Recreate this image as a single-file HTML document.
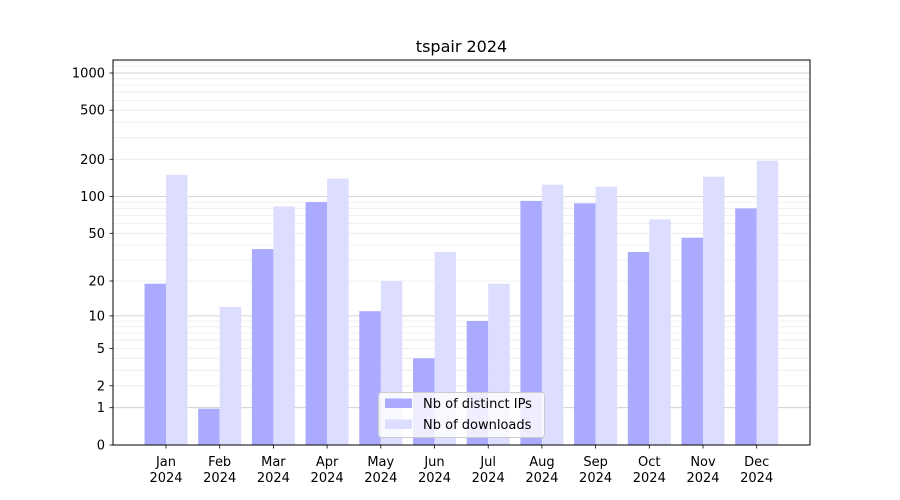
<!DOCTYPE html>
<html><head><meta charset="utf-8"><style>body{margin:0;background:#fff}svg{display:block;font-family:"DejaVu Sans","Liberation Sans",sans-serif}</style></head><body>
<svg width="900" height="500" viewBox="0 0 900 500">
<rect width="900" height="500" fill="#fff"/>
<g stroke="#ebebeb" stroke-width="0.8">
<line x1="113" x2="810" y1="385.8" y2="385.8"/><line x1="113" x2="810" y1="370.3" y2="370.3"/><line x1="113" x2="810" y1="358.3" y2="358.3"/><line x1="113" x2="810" y1="348.5" y2="348.5"/><line x1="113" x2="810" y1="340.2" y2="340.2"/><line x1="113" x2="810" y1="333" y2="333"/><line x1="113" x2="810" y1="326.7" y2="326.7"/><line x1="113" x2="810" y1="321" y2="321"/>
<line x1="113" x2="810" y1="281" y2="281"/><line x1="113" x2="810" y1="260.1" y2="260.1"/><line x1="113" x2="810" y1="245" y2="245"/><line x1="113" x2="810" y1="233.3" y2="233.3"/><line x1="113" x2="810" y1="223.6" y2="223.6"/><line x1="113" x2="810" y1="215.4" y2="215.4"/><line x1="113" x2="810" y1="208.3" y2="208.3"/><line x1="113" x2="810" y1="202.1" y2="202.1"/>
<line x1="113" x2="810" y1="159.3" y2="159.3"/><line x1="113" x2="810" y1="137.7" y2="137.7"/><line x1="113" x2="810" y1="122.2" y2="122.2"/><line x1="113" x2="810" y1="110.2" y2="110.2"/><line x1="113" x2="810" y1="100.5" y2="100.5"/><line x1="113" x2="810" y1="92.2" y2="92.2"/><line x1="113" x2="810" y1="85.1" y2="85.1"/><line x1="113" x2="810" y1="78.8" y2="78.8"/><line x1="113" x2="810" y1="66" y2="66"/><line x1="113" x2="810" y1="62" y2="62"/>
</g>
<g stroke="#c8c8c8" stroke-width="0.8">
<line x1="113" x2="810" y1="407.7" y2="407.7"/><line x1="113" x2="810" y1="315.9" y2="315.9"/><line x1="113" x2="810" y1="196.5" y2="196.5"/><line x1="113" x2="810" y1="73" y2="73"/>
</g>
<g fill="#aaaaff">
<rect x="144.5" y="283.7" width="21.5" height="161.3"/>
<rect x="198.2" y="408.7" width="21.5" height="36.3"/>
<rect x="251.9" y="249.1" width="21.5" height="195.9"/>
<rect x="305.6" y="202.1" width="21.5" height="242.9"/>
<rect x="359.3" y="311.2" width="21.5" height="133.8"/>
<rect x="413" y="358.3" width="21.5" height="86.7"/>
<rect x="466.7" y="321" width="21.5" height="124"/>
<rect x="520.4" y="200.9" width="21.5" height="244.1"/>
<rect x="574.1" y="203.3" width="21.5" height="241.7"/>
<rect x="627.8" y="252" width="21.5" height="193"/>
<rect x="681.5" y="237.7" width="21.5" height="207.3"/>
<rect x="735.2" y="208.4" width="21.5" height="236.6"/>
</g>
<g fill="#ddddff">
<rect x="166" y="174.8" width="21.5" height="270.2"/>
<rect x="219.7" y="306.9" width="21.5" height="138.1"/>
<rect x="273.4" y="206.4" width="21.5" height="238.6"/>
<rect x="327.1" y="178.5" width="21.5" height="266.5"/>
<rect x="380.8" y="281" width="21.5" height="164"/>
<rect x="434.5" y="252" width="21.5" height="193"/>
<rect x="488.2" y="283.7" width="21.5" height="161.3"/>
<rect x="541.9" y="184.6" width="21.5" height="260.4"/>
<rect x="595.6" y="186.7" width="21.5" height="258.3"/>
<rect x="649.3" y="219.4" width="21.5" height="225.6"/>
<rect x="703" y="176.6" width="21.5" height="268.4"/>
<rect x="756.7" y="160.7" width="21.5" height="284.3"/>
</g>
<rect x="113" y="60" width="697" height="385" fill="none" stroke="#000" stroke-width="1"/>
<g stroke="#000" stroke-width="0.8">
<line x1="109.5" x2="113" y1="445" y2="445"/><line x1="109.5" x2="113" y1="407.7" y2="407.7"/><line x1="109.5" x2="113" y1="385.8" y2="385.8"/><line x1="109.5" x2="113" y1="348.5" y2="348.5"/><line x1="109.5" x2="113" y1="315.9" y2="315.9"/><line x1="109.5" x2="113" y1="281" y2="281"/><line x1="109.5" x2="113" y1="233.3" y2="233.3"/><line x1="109.5" x2="113" y1="196.5" y2="196.5"/><line x1="109.5" x2="113" y1="159.3" y2="159.3"/><line x1="109.5" x2="113" y1="110.2" y2="110.2"/><line x1="109.5" x2="113" y1="73" y2="73"/>
<line y1="445" y2="448.5" x1="166" x2="166"/><line y1="445" y2="448.5" x1="219.7" x2="219.7"/><line y1="445" y2="448.5" x1="273.4" x2="273.4"/><line y1="445" y2="448.5" x1="327.1" x2="327.1"/><line y1="445" y2="448.5" x1="380.8" x2="380.8"/><line y1="445" y2="448.5" x1="434.5" x2="434.5"/><line y1="445" y2="448.5" x1="488.2" x2="488.2"/><line y1="445" y2="448.5" x1="541.9" x2="541.9"/><line y1="445" y2="448.5" x1="595.6" x2="595.6"/><line y1="445" y2="448.5" x1="649.3" x2="649.3"/><line y1="445" y2="448.5" x1="703" x2="703"/><line y1="445" y2="448.5" x1="756.7" x2="756.7"/>
</g>
<g font-size="13" text-anchor="end" fill="#000">
<text x="105" y="449.5">0</text><text x="105" y="412.2">1</text><text x="105" y="390.3">2</text><text x="105" y="353">5</text><text x="105" y="320.4">10</text><text x="105" y="285.5">20</text><text x="105" y="237.8">50</text><text x="105" y="201">100</text><text x="105" y="163.8">200</text><text x="105" y="114.7">500</text><text x="105" y="77.5">1000</text>
</g>
<g font-size="13" text-anchor="middle" fill="#000">
<text x="166" y="466">Jan</text><text x="166" y="482">2024</text>
<text x="219.7" y="466">Feb</text><text x="219.7" y="482">2024</text>
<text x="273.4" y="466">Mar</text><text x="273.4" y="482">2024</text>
<text x="327.1" y="466">Apr</text><text x="327.1" y="482">2024</text>
<text x="380.8" y="466">May</text><text x="380.8" y="482">2024</text>
<text x="434.5" y="466">Jun</text><text x="434.5" y="482">2024</text>
<text x="488.2" y="466">Jul</text><text x="488.2" y="482">2024</text>
<text x="541.9" y="466">Aug</text><text x="541.9" y="482">2024</text>
<text x="595.6" y="466">Sep</text><text x="595.6" y="482">2024</text>
<text x="649.3" y="466">Oct</text><text x="649.3" y="482">2024</text>
<text x="703" y="466">Nov</text><text x="703" y="482">2024</text>
<text x="756.7" y="466">Dec</text><text x="756.7" y="482">2024</text>
</g>
<text x="461.5" y="52" font-size="16" text-anchor="middle">tspair 2024</text>
<rect x="378.5" y="392.5" width="166" height="45" rx="3" fill="#fff" fill-opacity="0.8" stroke="#ccc"/>
<rect x="385" y="398.5" width="27" height="9.5" fill="#aaaaff"/>
<rect x="385" y="419.5" width="27" height="9.5" fill="#ddddff"/>
<text x="423" y="408" font-size="13">Nb of distinct IPs</text>
<text x="423" y="429" font-size="13">Nb of downloads</text>
</svg>
</body></html>
